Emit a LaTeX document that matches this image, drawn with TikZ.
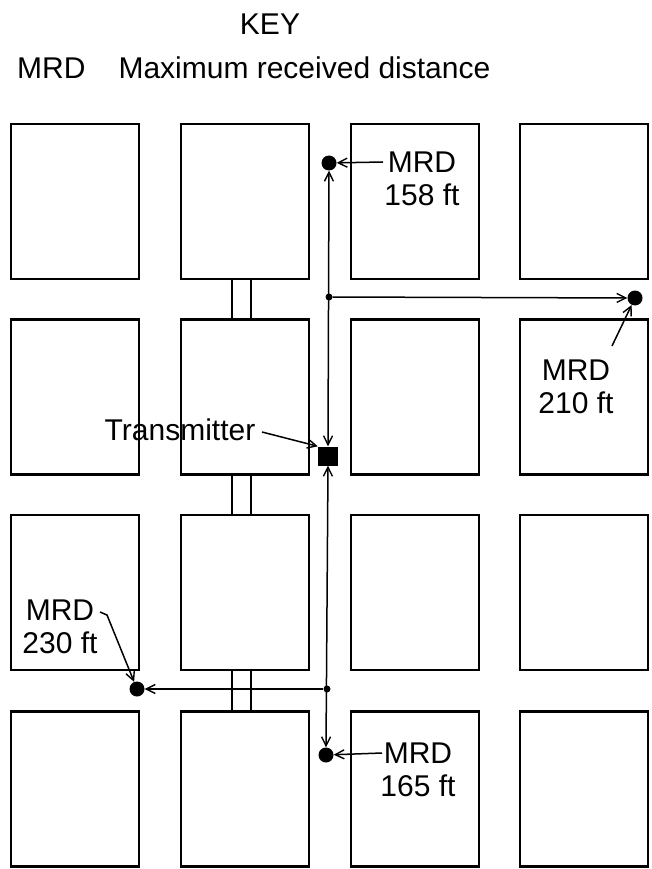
\documentclass[tikz,border=0pt]{standalone}
\usepackage{fontspec}
\setmainfont{Liberation Sans}
\usetikzlibrary{arrows.meta}
\begin{document}
\begin{tikzpicture}[x=1pt,y=-1pt,
  blk/.style={draw,line width=2.2pt,inner sep=0pt,minimum width=128pt,minimum height=155pt},
  brg/.style={line width=1.8pt},
  con/.style={line width=1.5pt},
  tip/.style={-{Straight Barb[length=9pt,width=9pt,line width=1.4pt]}},
  tips/.style={{Straight Barb[length=9pt,width=9pt,line width=1.4pt]}-{Straight Barb[length=9pt,width=9pt,line width=1.4pt]}},
  bigdot/.style={circle,fill=black,inner sep=0pt,minimum size=15pt},
  smalldot/.style={circle,fill=black,inner sep=0pt,minimum size=7pt},
  lbl/.style={font=\fontsize{30}{33}\selectfont,align=center,inner sep=0pt}]
\useasboundingbox (0,0) rectangle (652,869);
% blocks
\foreach \c/\x in {1/75,2/245,3/415,4/584}{
  \foreach \r/\y in {1/201.5,2/397,3/592.5,4/789}{
    \node[blk] (b\c\r) at (\x,\y) {};
  }
}
% bridges between col2 blocks
\foreach \a/\b in {1/2,2/3,3/4}{
  \draw[brg] ([xshift=-13pt]b2\a.south) -- ([xshift=-13pt]b2\b.north);
  \draw[brg] ([xshift=6pt]b2\a.south) -- ([xshift=6pt]b2\b.north);
}
% title
\node[lbl] (key) at (270,24) {KEY};
\node[lbl,anchor=west] (mrdk) at (17,68) {MRD\hspace{1.1em}Maximum received distance};
% transmitter and dots
\node[fill=black,inner sep=0pt,minimum width=20pt,minimum height=19pt] (tx) at (328,456) {};
\node[bigdot] (d158) at (329,163) {};
\node[bigdot] (d165) at (326,755) {};
\node[bigdot] (d210) at (635,298) {};
\node[bigdot] (d230) at (137,689) {};
\node[smalldot] (j1) at (329,297) {};
\node[smalldot] (j2) at (327,689) {};
% connectors
\draw[con,tips] (tx.north) -- (d158.south);
\draw[con,tips] (tx.south) -- (d165.north);
\draw[con,tip] (j1) -- (d210);
\draw[con,tip] (j2) -- (d230);
% labels
\node[lbl] (l158) at (422,179) {MRD\\158 ft};
\node[lbl] (l165) at (418,770) {MRD\\165 ft};
\node[lbl] (l210) at (576,387) {MRD\\210 ft};
\node[lbl] (l230) at (60,627) {MRD\\230 ft};
\node[lbl] (ltx) at (180,430) {Transmitter};
\coordinate (s158) at (383,162);
\coordinate (s165) at (382,753);
\coordinate (s210) at (612,346);
\coordinate (s230) at (100,612);
\coordinate (stx) at (262,432);
\draw[con,tip] (s158) -- (d158);
\draw[con,tip] (s165) -- (d165);
\draw[con,tip] (s210) -- (d210);
\draw[con,tip] (s230) -- (107,615) -- (d230);
\draw[con,tip] (stx) -- (tx.north west);
\end{tikzpicture}
\end{document}
